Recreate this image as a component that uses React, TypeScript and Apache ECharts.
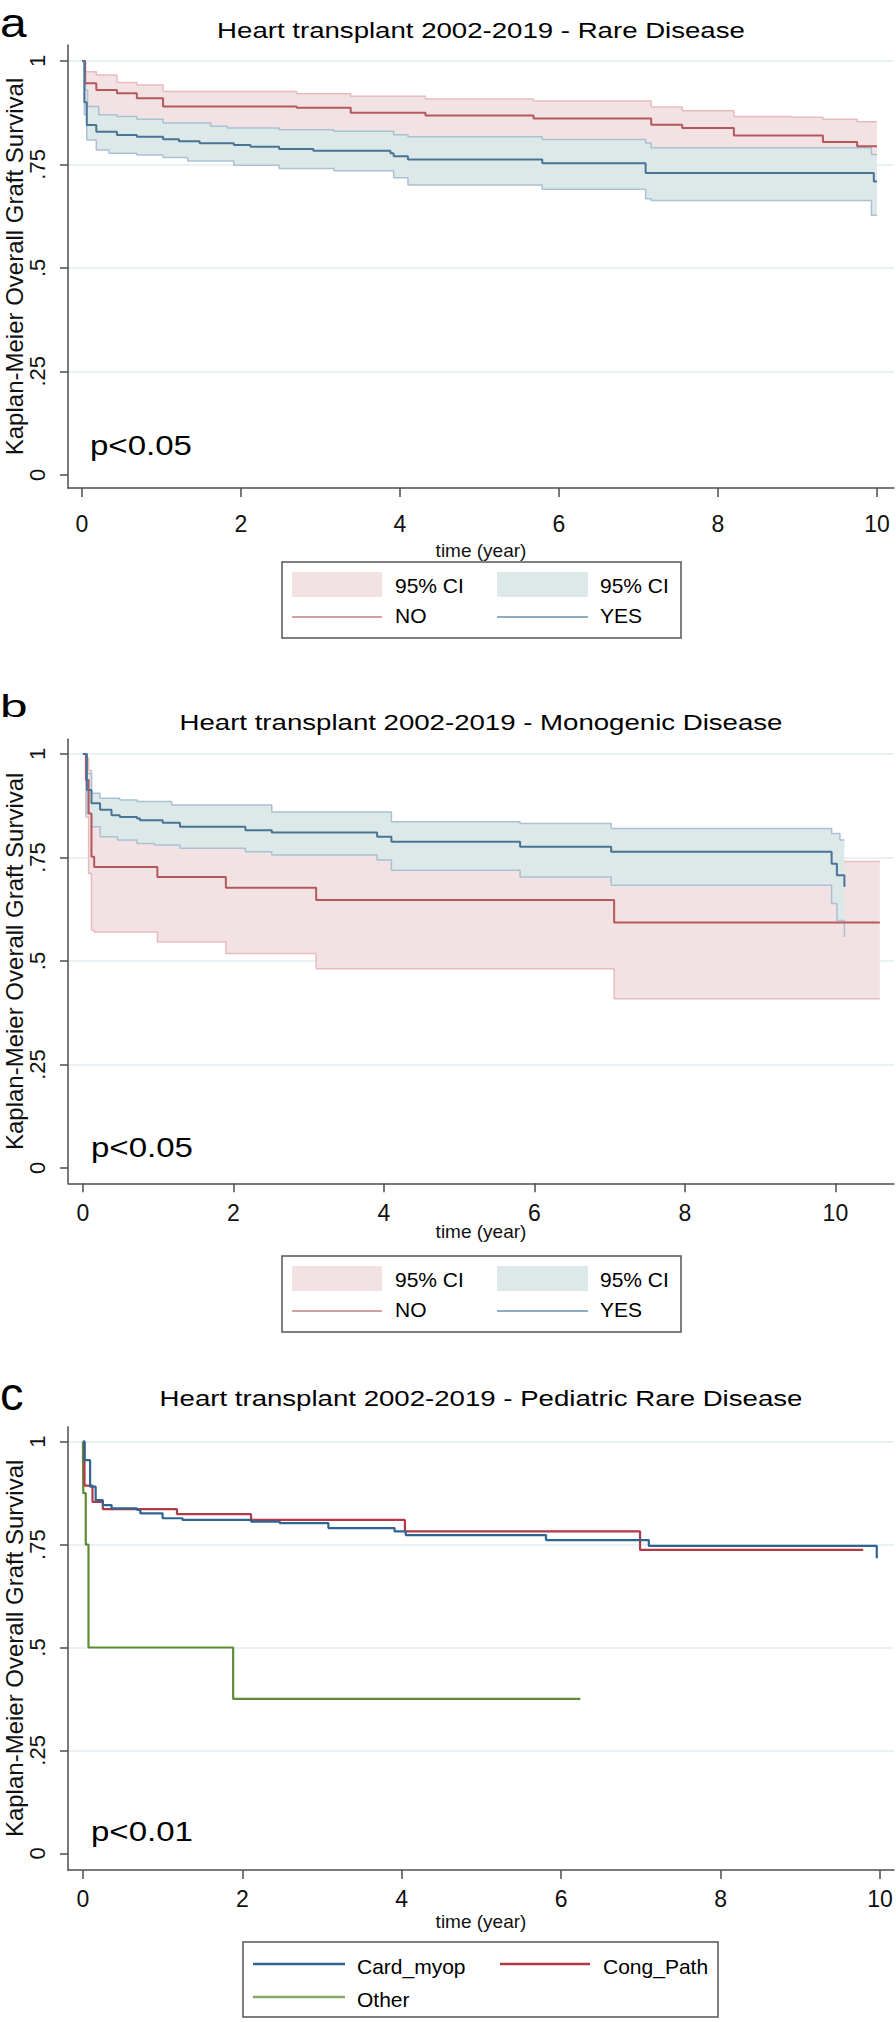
import React, { useEffect, useRef } from 'react';
import * as echarts from 'echarts';

// ---------- shared ticks ----------
const xTicks = [0, 2, 4, 6, 8, 10];
const yTicks = [0, 0.25, 0.5, 0.75, 1];
const yTickLabels = ['0', '.25', '.5', '.75', '1'];

// ---------- panel a : Rare Disease ----------
const noTimeA = [0, 0.04, 0.18, 0.44, 0.69, 1.02, 2.7, 3.38, 4.32, 5.68, 7.16, 7.55, 8.2, 9.32, 9.75, 10.0];
const noSurvA = [1, 0.946, 0.930, 0.922, 0.910, 0.890, 0.887, 0.875, 0.868, 0.861, 0.846, 0.838, 0.820, 0.804, 0.794, 0.794];
const noUpTimeA = [0, 0.04, 0.18, 0.44, 0.69, 1.02, 2.7, 3.38, 4.32, 5.68, 7.16, 7.55, 8.2, 8.92, 9.32, 9.75, 10.0];
const noUpA = [1, 0.974, 0.966, 0.948, 0.942, 0.926, 0.921, 0.915, 0.908, 0.903, 0.889, 0.880, 0.866, 0.864, 0.859, 0.853, 0.853];
const yesUpTimeA = [0, 0.04, 0.07, 0.21, 0.44, 0.69, 1.02, 1.62, 1.83, 2.48, 3.17, 3.92, 4.1, 5.79, 7.09, 7.16, 9.93, 10.0];
const yesUpA = [1, 0.93, 0.89, 0.870, 0.866, 0.859, 0.850, 0.842, 0.838, 0.834, 0.830, 0.822, 0.817, 0.810, 0.802, 0.790, 0.774, 0.774];
const noLowTimeA = yesUpTimeA;
const noLowA = yesUpA;
const yesTimeA = [0, 0.03, 0.06, 0.18, 0.44, 0.69, 1.02, 1.22, 1.48, 1.91, 2.12, 2.48, 2.91, 3.88, 3.92, 4.1, 5.79, 7.09, 9.96, 10.0];
const yesSurvA = [1, 0.90, 0.845, 0.829, 0.821, 0.817, 0.811, 0.806, 0.801, 0.797, 0.793, 0.787, 0.783, 0.777, 0.770, 0.762, 0.753, 0.729, 0.709, 0.709];
const yesLowTimeA = [0, 0.03, 0.06, 0.18, 0.34, 0.69, 1.02, 1.33, 1.91, 2.48, 3.17, 3.92, 4.1, 5.79, 7.09, 7.16, 9.93, 10.0];
const yesLowA = [1, 0.87, 0.809, 0.785, 0.777, 0.773, 0.767, 0.758, 0.748, 0.740, 0.735, 0.718, 0.700, 0.690, 0.667, 0.663, 0.627, 0.627];

// ---------- panel b : Monogenic Disease ----------
const noTimeB = [0, 0.04, 0.076, 0.114, 0.15, 0.99, 1.90, 3.10, 7.06, 10.59];
const noSurvB = [1, 0.937, 0.856, 0.752, 0.727, 0.703, 0.677, 0.647, 0.593, 0.593];
const noUpB = [1, 0.99, 0.96, 0.90, 0.88, 0.86, 0.84, 0.82, 0.74, 0.74];
const noLowB = [1, 0.848, 0.711, 0.574, 0.570, 0.546, 0.518, 0.481, 0.409, 0.409];
const yesTimeB = [0, 0.053, 0.114, 0.228, 0.38, 0.49, 0.72, 0.76, 1.06, 1.29, 2.16, 2.51, 3.91, 4.10, 5.81, 7.02, 9.95, 10.02, 10.12];
const yesSurvB = [1, 0.913, 0.881, 0.865, 0.852, 0.848, 0.844, 0.840, 0.834, 0.824, 0.816, 0.810, 0.800, 0.788, 0.776, 0.764, 0.735, 0.707, 0.679];
const yesUpTimeB = [0, 0.04, 0.114, 0.228, 0.49, 0.72, 1.18, 2.51, 4.10, 5.81, 7.02, 9.95, 10.06, 10.12];
const yesUpB = [1, 0.953, 0.905, 0.893, 0.889, 0.885, 0.877, 0.860, 0.836, 0.832, 0.820, 0.808, 0.792, 0.792];
const yesLowTimeB = [0, 0.053, 0.114, 0.228, 0.46, 0.72, 0.95, 1.29, 2.16, 2.51, 3.91, 4.10, 5.81, 7.02, 9.95, 10.02, 10.12];
const yesLowB = [1, 0.856, 0.824, 0.800, 0.792, 0.784, 0.780, 0.772, 0.764, 0.756, 0.744, 0.719, 0.703, 0.683, 0.639, 0.598, 0.558];

// ---------- panel c : Pediatric Rare Disease ----------
const cardTime = [0, 0.02, 0.09, 0.16, 0.25, 0.36, 0.68, 0.72, 1.0, 1.25, 2.11, 2.47, 3.08, 3.91, 4.05, 5.81, 7.10, 9.96];
const cardSurv = [1, 0.955, 0.891, 0.858, 0.846, 0.838, 0.834, 0.826, 0.814, 0.810, 0.806, 0.802, 0.790, 0.782, 0.773, 0.761, 0.747, 0.717];
const congTime = [0, 0.02, 0.12, 0.25, 1.18, 2.11, 4.04, 6.99, 9.79];
const congSurv = [1, 0.893, 0.854, 0.836, 0.824, 0.810, 0.782, 0.737, 0.737];
const otherTime = [0, 0.005, 0.036, 0.07, 1.885, 6.24];
const otherSurv = [1, 0.875, 0.75, 0.5, 0.375, 0.375];

const FONT = "'Liberation Sans', Arial, Helvetica, sans-serif";
const C = {
  redLine: '#b5585e',
  redBound: '#e6bcbf',
  redFill: '#f3e2e3',
  blueLine: '#4a7496',
  blueBound: '#a9c1d3',
  blueFill: '#dde8e8',
  grid: '#e3edf1',
  axis: '#4d4d4d',
  cBlue: '#2e6593',
  cRed: '#b03a48',
  cGreen: '#5e8c36',
};

function stepPoly(tu: number[], up: number[], tl: number[], lo: number[]) {
  const pts: number[][] = [];
  for (let i = 0; i < tu.length; i++) {
    pts.push([tu[i], up[i]]);
    if (i < tu.length - 1) pts.push([tu[i + 1], up[i]]);
  }
  for (let i = tl.length - 1; i >= 0; i--) {
    pts.push([tl[i], lo[i]]);
    if (i > 0) pts.push([tl[i], lo[i - 1]]);
  }
  return pts;
}

function km(grid: number, ts: number[], vs: number[], color: string, width: number, z: number) {
  return {
    type: 'line',
    xAxisIndex: grid,
    yAxisIndex: grid,
    data: ts.map((t, i) => [t, vs[i]]),
    step: 'end',
    showSymbol: false,
    symbol: 'none',
    silent: true,
    lineStyle: { color, width },
    itemStyle: { color },
    z,
  };
}

function band(grid: number, tu: number[], up: number[], tl: number[], lo: number[], fill: string, z: number) {
  return {
    type: 'custom',
    xAxisIndex: grid,
    yAxisIndex: grid,
    silent: true,
    data: [[0, 0]],
    z,
    renderItem: (params: any, api: any) => {
      if (params.dataIndex !== 0) return null;
      const pts = stepPoly(tu, up, tl, lo).map((p) => api.coord(p));
      return { type: 'polygon', shape: { points: pts }, style: { fill } };
    },
  };
}

const gridDefs = [
  { top: 45, height: 443, xmin: -0.176, xmax: 10.214, ymin: -0.032, ymax: 1.0386, labelMargin: 24, nameGap: 53 },
  { top: 739.3, height: 444, xmin: -0.198, xmax: 10.779, ymin: -0.037, ymax: 1.0354, labelMargin: 18, nameGap: 39 },
  { top: 1426.7, height: 443.3, xmin: -0.187, xmax: 10.176, ymin: -0.0406, ymax: 1.0364, labelMargin: 17, nameGap: 42 },
];

function txt(text: string, x: number, y: number, size: number, align: string, scaleX = 1) {
  return {
    type: 'text',
    x,
    y,
    scaleX,
    silent: true,
    style: {
      text,
      x: 0,
      y: 0,
      fontSize: size,
      fontFamily: FONT,
      fill: '#000',
      textAlign: align,
      align,
      textVerticalAlign: 'middle',
      verticalAlign: 'middle',
    },
  };
}

function ciLegend(top: number) {
  return [
    { type: 'rect', shape: { x: 282, y: top, width: 399, height: 76 }, style: { fill: '#fff', stroke: '#555', lineWidth: 1.5 }, silent: true },
    { type: 'rect', shape: { x: 292, y: top + 10, width: 90, height: 25 }, style: { fill: C.redFill }, silent: true },
    { type: 'rect', shape: { x: 497, y: top + 10, width: 91, height: 25 }, style: { fill: C.blueFill }, silent: true },
    { type: 'line', shape: { x1: 292, y1: top + 55, x2: 382, y2: top + 55 }, style: { stroke: '#d39fa3', lineWidth: 2 }, silent: true },
    { type: 'line', shape: { x1: 497, y1: top + 55, x2: 588, y2: top + 55 }, style: { stroke: '#8eadc6', lineWidth: 2 }, silent: true },
    txt('95% CI', 395, top + 23.5, 21, 'left'),
    txt('NO', 395, top + 53.5, 21, 'left'),
    txt('95% CI', 600, top + 23.5, 21, 'left'),
    txt('YES', 600, top + 53.5, 21, 'left'),
  ];
}

function buildOption() {
  const grids = gridDefs.map((g) => ({
    left: 68,
    width: 826,
    top: g.top,
    height: g.height,
    containLabel: false,
    outerBoundsMode: 'none',
  }));
  const xAxes = gridDefs.map((g, i) => ({
    type: 'value',
    gridIndex: i,
    min: g.xmin,
    max: g.xmax,
    name: 'time (year)',
    nameLocation: 'middle',
    nameGap: g.nameGap,
    nameMoveOverlap: false,
    nameTextStyle: { fontSize: 19, color: '#111', fontFamily: FONT },
    axisLine: { show: true, onZero: false, lineStyle: { color: C.axis, width: 1.5 } },
    axisTick: { show: true, length: 9, customValues: xTicks, lineStyle: { color: C.axis, width: 1.5 } },
    axisLabel: { customValues: xTicks, fontSize: 23, color: '#111', margin: g.labelMargin, fontFamily: FONT },
    splitLine: { show: false },
  }));
  const yAxes = gridDefs.map((g, i) => ({
    type: 'value',
    gridIndex: i,
    min: g.ymin,
    max: g.ymax,
    name: 'Kaplan-Meier Overall Graft Survival',
    nameLocation: 'middle',
    nameGap: 42,
    nameMoveOverlap: false,
    nameTextStyle: { fontSize: 24, color: '#111', fontFamily: FONT },
    axisLine: { show: true, onZero: false, lineStyle: { color: C.axis, width: 1.5 } },
    axisTick: { show: true, length: 8, customValues: yTicks, lineStyle: { color: C.axis, width: 1.5 } },
    axisLabel: {
      customValues: yTicks,
      rotate: 90,
      fontSize: 22,
      color: '#111',
      margin: 20,
      fontFamily: FONT,
      formatter: (v: number) => {
        const idx = yTicks.findIndex((t) => Math.abs(t - v) < 1e-6);
        return idx >= 0 ? yTickLabels[idx] : '';
      },
    },
    splitLine: {
      show: true,
      lineStyle: { color: ['rgba(0,0,0,0)', C.grid, C.grid, C.grid, C.grid], width: 1.5 },
    },
  }));

  const series: any[] = [
    // panel a
    band(0, noUpTimeA, noUpA, noLowTimeA, noLowA, C.redFill, 1),
    km(0, noUpTimeA, noUpA, C.redBound, 1.5, 2),
    band(0, yesUpTimeA, yesUpA, yesLowTimeA, yesLowA, C.blueFill, 3),
    km(0, yesUpTimeA, yesUpA, C.blueBound, 1.5, 4),
    km(0, yesLowTimeA, yesLowA, C.blueBound, 1.5, 4),
    km(0, noTimeA, noSurvA, C.redLine, 2, 5),
    km(0, yesTimeA, yesSurvA, C.blueLine, 2, 6),
    // panel b
    band(1, noTimeB, noUpB, noTimeB, noLowB, C.redFill, 1),
    km(1, noTimeB, noUpB, C.redBound, 1.5, 2),
    km(1, noTimeB, noLowB, C.redBound, 1.5, 2),
    band(1, yesUpTimeB, yesUpB, yesLowTimeB, yesLowB, C.blueFill, 3),
    km(1, yesUpTimeB, yesUpB, C.blueBound, 1.5, 4),
    km(1, yesLowTimeB, yesLowB, C.blueBound, 1.5, 4),
    km(1, noTimeB, noSurvB, C.redLine, 2, 5),
    km(1, yesTimeB, yesSurvB, C.blueLine, 2, 6),
    // panel c
    km(2, otherTime, otherSurv, C.cGreen, 2.2, 5),
    km(2, congTime, congSurv, C.cRed, 2.2, 6),
    km(2, cardTime, cardSurv, C.cBlue, 2.2, 7),
  ];

  const graphic: any[] = [
    txt('a', 0, 23, 40, 'left', 1.2),
    txt('b', 0, 706.6, 31, 'left', 1.6),
    txt('c', 0, 1393.7, 47, 'left'),
    txt('Heart transplant 2002-2019 - Rare Disease', 481, 29.7, 22, 'center', 1.255),
    txt('Heart transplant 2002-2019 - Monogenic Disease', 481, 721.7, 22, 'center', 1.255),
    txt('Heart transplant 2002-2019 - Pediatric Rare Disease', 481, 1398.4, 22, 'center', 1.255),
    txt('p<0.05', 90, 444.8, 28, 'left', 1.18),
    txt('p<0.05', 91, 1146.8, 28, 'left', 1.18),
    txt('p<0.01', 91, 1831, 28, 'left', 1.18),
    ...ciLegend(562),
    ...ciLegend(1256),
    { type: 'rect', shape: { x: 243, y: 1942, width: 475, height: 75 }, style: { fill: '#fff', stroke: '#555', lineWidth: 1.5 }, silent: true },
    { type: 'line', shape: { x1: 253, y1: 1964, x2: 345, y2: 1964 }, style: { stroke: C.cBlue, lineWidth: 2.5 }, silent: true },
    { type: 'line', shape: { x1: 500, y1: 1964, x2: 590, y2: 1964 }, style: { stroke: C.cRed, lineWidth: 2.5 }, silent: true },
    { type: 'line', shape: { x1: 253, y1: 1997, x2: 345, y2: 1997 }, style: { stroke: '#86aa64', lineWidth: 2.5 }, silent: true },
    txt('Card_myop', 357, 1966, 21, 'left'),
    txt('Cong_Path', 603, 1966, 21, 'left'),
    txt('Other', 357, 1999.4, 21, 'left'),
  ];

  return {
    animation: false,
    backgroundColor: '#ffffff',
    textStyle: { fontFamily: FONT },
    grid: grids,
    xAxis: xAxes,
    yAxis: yAxes,
    series,
    graphic: { elements: graphic },
  };
}

export default function App() {
  const ref = useRef<HTMLDivElement>(null);
  useEffect(() => {
    if (!ref.current) return;
    const chart = echarts.init(ref.current, undefined, { renderer: 'svg' });
    chart.setOption(buildOption() as any);
    return () => chart.dispose();
  }, []);
  return (
    <div
      ref={ref}
      style={{ position: 'absolute', left: 0, top: 0, width: 896, height: 2022, background: '#fff' }}
    />
  );
}
